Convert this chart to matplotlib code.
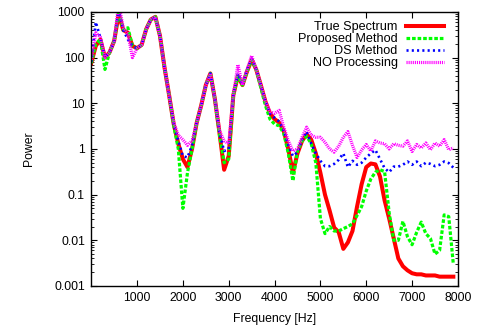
## spectrum comparison (log power vs frequency)
import numpy as np
import matplotlib
matplotlib.use('Agg')
from matplotlib import pyplot as plt
from matplotlib import ticker

plt.rcParams['font.family'] = ['Liberation Sans', 'DejaVu Sans']
plt.rcParams['font.size'] = 8.8
plt.rcParams['lines.scale_dashes'] = False

# frequency grid [Hz], 100 Hz step
freq = np.arange(0, 8000, 100)

# values
true_spec = [75, 180, 250, 100, 130, 230, 900, 400, 350, 180,
             160, 190, 420, 680, 780, 300, 60, 15, 3.5, 1.3,
             0.6, 0.4, 1.0, 3.7, 9, 25, 45, 12, 2.2, 0.35,
             0.7, 15, 40, 25, 50, 90, 55, 25, 11, 6,
             4.5, 3.8, 2.5, 1.0, 0.3, 0.8, 1.5, 2.1, 1.6, 0.8,
             0.3, 0.1, 0.045, 0.019, 0.015, 0.0065, 0.009, 0.016, 0.055, 0.17,
             0.4, 0.48, 0.46, 0.25, 0.075, 0.03, 0.011, 0.004, 0.0027, 0.0022,
             0.0019, 0.0018, 0.0018, 0.0017, 0.0017, 0.0017, 0.0016, 0.0016, 0.0016, 0.0016]
proposed = [75, 200, 250, 55, 130, 230, 1000, 400, 450, 180,
            160, 190, 420, 680, 780, 300, 60, 15, 3.3, 1.0,
            0.05, 0.3, 1.0, 3.7, 9, 25, 45, 12, 2.0, 0.5,
            0.6, 15, 40, 25, 50, 90, 55, 22, 9, 4.5,
            3.5, 3.2, 2.2, 0.8, 0.2, 0.9, 1.5, 1.9, 1.3, 0.5,
            0.03, 0.014, 0.02, 0.016, 0.016, 0.018, 0.02, 0.023, 0.035, 0.055,
            0.12, 0.22, 0.31, 0.35, 0.32, 0.04, 0.01, 0.01, 0.026, 0.012,
            0.008, 0.015, 0.025, 0.014, 0.011, 0.005, 0.006, 0.036, 0.033, 0.003]
ds_method = [80, 600, 270, 100, 130, 230, 1100, 400, 250, 180,
             160, 190, 420, 680, 780, 300, 60, 15, 3.5, 1.5,
             0.7, 0.65, 1.2, 3.7, 9, 25, 45, 12, 2.2, 0.9,
             1.0, 15, 45, 25, 55, 95, 55, 25, 11, 6,
             4.8, 4.0, 2.5, 1.2, 0.7, 0.85, 1.6, 2.4, 1.3, 0.8,
             0.55, 0.42, 0.42, 0.47, 0.58, 0.8, 0.4, 0.55, 0.45, 0.5,
             0.65, 0.8, 0.95, 0.6, 0.38, 0.31, 0.41, 0.41, 0.45, 0.53,
             0.45, 0.53, 0.42, 0.5, 0.47, 0.42, 0.45, 0.53, 0.49, 0.39]
no_proc = [90, 350, 280, 100, 130, 230, 1500, 450, 330, 100,
           160, 190, 420, 680, 780, 300, 60, 15, 3.8, 2.0,
           1.6, 1.2, 1.5, 3.7, 9, 25, 45, 12, 2.5, 1.5,
           1.3, 15, 70, 25, 55, 110, 55, 25, 11, 6.5,
           6, 7, 3, 1.5, 0.9, 1.0, 1.8, 3.0, 2.0, 1.8,
           1.8, 1.4, 1.0, 0.85, 1.15, 1.8, 2.4, 1.2, 0.65, 0.95,
           1.25, 0.9, 1.5, 1.35, 1.3, 1.0, 1.3, 1.2, 1.15, 1.5,
           0.88, 1.25, 1.05, 1.35, 0.96, 1.35, 1.15, 1.6, 0.96, 1.05]

y_ticks = [0.001, 0.01, 0.1, 1, 10, 100, 1000]

fig = plt.figure(figsize=(4.8, 3.31), dpi=100)
ax = fig.add_axes([0.19, 0.136, 0.764, 0.828])

ax.plot(freq, true_spec, color='#ff0000', lw=2.9, label='True Spectrum')
ax.plot(freq, proposed, color='#00ff00', lw=2.3, dashes=(2.6, 1.4), label='Proposed Method')
ax.plot(freq, ds_method, color='#0000ff', lw=1.9, dashes=(1.5, 2.3), label='DS Method')
ax.plot(freq, no_proc, color='#ff00ff', lw=2.3, dashes=(0.8, 0.7), label='NO Processing')

ax.set_yscale('log')
ax.set_xlim(0, 8000)
ax.set_ylim(0.001, 1000)
ax.set_xticks(range(1000, 8001, 1000))
ax.set_yticks(y_ticks)
ax.set_yticklabels(['%g' % v for v in y_ticks])
ax.yaxis.set_minor_locator(ticker.LogLocator(base=10, subs=np.arange(2, 10)))
ax.yaxis.set_minor_formatter(ticker.NullFormatter())
ax.tick_params(which='both', direction='in', top=True, right=True, colors='black')
ax.tick_params(which='major', length=4.5, width=0.8, pad=4.5)
ax.tick_params(which='minor', length=2.5, width=0.6)
for s in ax.spines.values():
    s.set_linewidth(1.0)

ax.set_xlabel('Frequency [Hz]', labelpad=6)
ax.set_ylabel('Power', labelpad=14)

ax.legend(loc='upper right', frameon=False, markerfirst=False, fontsize=9.1,
          handlelength=3.0, handletextpad=0.65, labelspacing=0.0,
          borderaxespad=0.0, bbox_to_anchor=(0.975, 0.985))

fig.savefig('out.png', dpi=100)
